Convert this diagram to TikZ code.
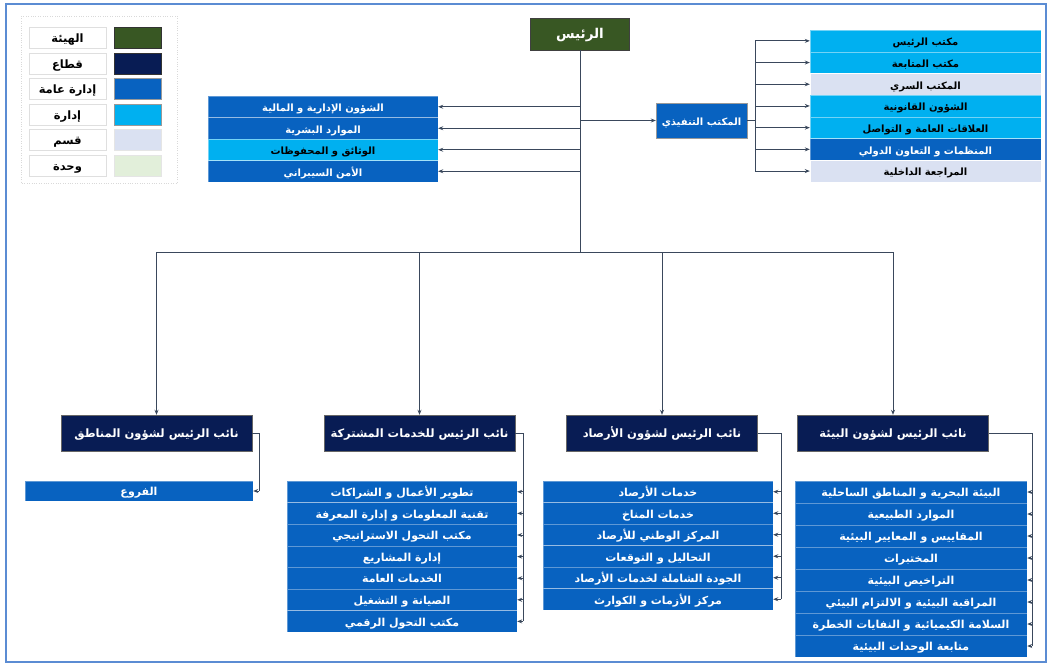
\documentclass[tikz,border=0pt]{standalone}
\usepackage{fontspec}
\usetikzlibrary{arrows.meta}
\TeXXeTstate=1
\newfontfamily\arabicfont[Script=Arabic]{DejaVu Sans}
\newcommand\artxt[1]{{\arabicfont\bfseries\beginR #1\endR}}
\definecolor{hayc}{RGB}{56,87,35}
\definecolor{qitc}{RGB}{8,28,84}
\definecolor{ammc}{RGB}{8,98,192}
\definecolor{idrc}{RGB}{0,176,240}
\definecolor{qsmc}{RGB}{218,225,242}
\definecolor{whdc}{RGB}{226,239,218}
\definecolor{linec}{RGB}{58,72,92}
\definecolor{framec}{RGB}{91,140,211}

\begin{document}
\begin{tikzpicture}[x=1pt,y=-1pt]

\tikzset{box/.style={inner sep=0pt, text height=0.95em, text depth=0pt, font=\fontsize{10}{12}\selectfont}}
\tikzset{big/.style={font=\fontsize{11}{13}\selectfont}}
\tikzset{hay/.style={box, draw=black!75, fill=hayc, text=white, minimum width=99pt, minimum height=32pt, font=\fontsize{13.5}{15}\selectfont}}
\tikzset{qit/.style={box, draw=black!60, fill=qitc, text=white, minimum width=191pt, minimum height=36pt, font=\fontsize{11.5}{13}\selectfont}}
\tikzset{amm/.style={box, draw=white, draw opacity=0.35, fill=ammc, text=white}}
\tikzset{idr/.style={box, draw=white, draw opacity=0.45, fill=idrc, text=black}}
\tikzset{qsm/.style={box, draw=white, fill=qsmc, text=black}}
\tikzset{lrow/.style={minimum width=230pt, minimum height=21.5pt}}
\tikzset{rrow/.style={minimum width=231pt, minimum height=21.7pt}}
\tikzset{legtxt/.style={box, draw=gray!25, fill=white, minimum width=77pt, minimum height=21pt, font=\fontsize{11.5}{13}\selectfont}}
\tikzset{legbox/.style={draw=black!40, minimum width=47pt, minimum height=21pt, inner sep=0pt}}
\tikzset{con/.style={draw=linec, line width=0.9pt}}
\tikzset{arr/.style={con, -{Stealth[length=5pt,width=4pt]}}}

\useasboundingbox (0,0) rectangle (1052,665);
\draw[framec, line width=2.5pt] (6,4) rectangle (1046,662);

% legend
\draw[gray!30, dotted] (21,16) rectangle (177,183);
\draw (67.5,38) node[legtxt](lt1) {\artxt{الهيئة}};
\draw (67.5,63.5) node[legtxt](lt2) {\artxt{قطاع}};
\draw (67.5,89) node[legtxt](lt3) {\artxt{إدارة عامة}};
\draw (67.5,114.5) node[legtxt](lt4) {\artxt{إدارة}};
\draw (67.5,140) node[legtxt](lt5) {\artxt{قسم}};
\draw (67.5,165.5) node[legtxt](lt6) {\artxt{وحدة}};
\draw (137.5,38) node[legbox, fill=hayc, draw=black!80](ls1) {};
\draw (137.5,63.5) node[legbox, fill=qitc, draw=black!80](ls2) {};
\draw (137.5,89) node[legbox, fill=ammc](ls3) {};
\draw (137.5,114.5) node[legbox, fill=idrc](ls4) {};
\draw (137.5,140) node[legbox, fill=qsmc, draw=gray!20](ls5) {};
\draw (137.5,165.5) node[legbox, fill=whdc, draw=gray!20](ls6) {};

% head
\draw (580,34) node[hay](ra) {\artxt{الرئيس}};

% left support units
\draw (323,106.75) node[amm, lrow](s1) {\artxt{الشؤون الإدارية و المالية}};
\draw (323,128.25) node[amm, lrow](s2) {\artxt{الموارد البشرية}};
\draw (323,149.75) node[idr, lrow](s3) {\artxt{الوثائق و المحفوظات}};
\draw (323,171.25) node[amm, lrow](s4) {\artxt{الأمن السيبراني}};

% executive office
\draw (701.5,120.5) node[amm, draw=black!40, draw opacity=1, minimum width=91pt, minimum height=35pt](ex) {\artxt{المكتب التنفيذي}};
\draw (925.5,40.85) node[idr, rrow](e1) {\artxt{مكتب الرئيس}};
\draw (925.5,62.55) node[idr, rrow](e2) {\artxt{مكتب المتابعة}};
\draw (925.5,84.25) node[qsm, rrow](e3) {\artxt{المكتب السري}};
\draw (925.5,105.95) node[idr, rrow](e4) {\artxt{الشؤون القانونية}};
\draw (925.5,127.65) node[idr, rrow](e5) {\artxt{العلاقات العامة و التواصل}};
\draw (925.5,149.35) node[amm, rrow](e6) {\artxt{المنظمات و التعاون الدولي}};
\draw (925.5,171.05) node[qsm, rrow](e7) {\artxt{المراجعة الداخلية}};

% vice presidents
\draw (156.5,433) node[qit](v1) {\artxt{نائب الرئيس لشؤون المناطق}};
\draw (419.5,433) node[qit](v2) {\artxt{نائب الرئيس للخدمات المشتركة}};
\draw (662,433) node[qit](v3) {\artxt{نائب الرئيس لشؤون الأرصاد}};
\draw (893,433) node[qit](v4) {\artxt{نائب الرئيس لشؤون البيئة}};

% regions
\draw (139,491) node[amm, big, minimum width=228pt, minimum height=20pt](a1) {\artxt{الفروع}};

% shared services
\draw (402,491.8) node[amm, big, lrow, minimum height=21.6pt](b1) {\artxt{تطوير الأعمال و الشراكات}};
\draw (402,513.4) node[amm, big, lrow, minimum height=21.6pt](b2) {\artxt{تقنية المعلومات و إدارة المعرفة}};
\draw (402,535.0) node[amm, big, lrow, minimum height=21.6pt](b3) {\artxt{مكتب التحول الاستراتيجي}};
\draw (402,556.6) node[amm, big, lrow, minimum height=21.6pt](b4) {\artxt{إدارة المشاريع}};
\draw (402,578.2) node[amm, big, lrow, minimum height=21.6pt](b5) {\artxt{الخدمات العامة}};
\draw (402,599.8) node[amm, big, lrow, minimum height=21.6pt](b6) {\artxt{الصيانة و التشغيل}};
\draw (402,621.4) node[amm, big, lrow, minimum height=21.6pt](b7) {\artxt{مكتب التحول الرقمي}};

% meteorology
\draw (658,491.75) node[amm, big, lrow](c1) {\artxt{خدمات الأرصاد}};
\draw (658,513.25) node[amm, big, lrow](c2) {\artxt{خدمات المناخ}};
\draw (658,534.75) node[amm, big, lrow](c3) {\artxt{المركز الوطني للأرصاد}};
\draw (658,556.25) node[amm, big, lrow](c4) {\artxt{التحاليل و التوقعات}};
\draw (658,577.75) node[amm, big, lrow](c5) {\artxt{الجودة الشاملة لخدمات الأرصاد}};
\draw (658,599.25) node[amm, big, lrow](c6) {\artxt{مركز الأزمات و الكوارث}};

% environment
\draw (911,492) node[amm, big, minimum width=232pt, minimum height=22pt](d1) {\artxt{البيئة البحرية و المناطق الساحلية}};
\draw (911,514) node[amm, big, minimum width=232pt, minimum height=22pt](d2) {\artxt{الموارد الطبيعية}};
\draw (911,536) node[amm, big, minimum width=232pt, minimum height=22pt](d3) {\artxt{المقاييس و المعايير البيئية}};
\draw (911,558) node[amm, big, minimum width=232pt, minimum height=22pt](d4) {\artxt{المختبرات}};
\draw (911,580) node[amm, big, minimum width=232pt, minimum height=22pt](d5) {\artxt{التراخيص البيئية}};
\draw (911,602) node[amm, big, minimum width=232pt, minimum height=22pt](d6) {\artxt{المراقبة البيئية و الالتزام البيئي}};
\draw (911,624) node[amm, big, minimum width=232pt, minimum height=22pt](d7) {\artxt{السلامة الكيميائية و النفايات الخطرة}};
\draw (911,646) node[amm, big, minimum width=232pt, minimum height=22pt](d8) {\artxt{متابعة الوحدات البيئية}};

% trunk and buses
\coordinate (bus) at (580,252);
\draw[con] (ra.south) -- (bus);
\draw[con] (v1.north |- bus) -- (v4.north |- bus);
\draw[arr] (v1.north |- bus) -- (v1.north);
\draw[arr] (v2.north |- bus) -- (v2.north);
\draw[arr] (v3.north |- bus) -- (v3.north);
\draw[arr] (v4.north |- bus) -- (v4.north);

\draw[arr] (bus |- s1.east) -- (s1.east);
\draw[arr] (bus |- s2.east) -- (s2.east);
\draw[arr] (bus |- s3.east) -- (s3.east);
\draw[arr] (bus |- s4.east) -- (s4.east);
\draw[arr] (bus |- ex.west) -- (ex.west);

\coordinate (eb) at (755,120.5);
\draw[con] (ex.east) -- (eb);
\draw[con] (eb |- e1.west) -- (eb |- e7.west);
\draw[arr] (eb |- e1.west) -- (e1.west);
\draw[arr] (eb |- e2.west) -- (e2.west);
\draw[arr] (eb |- e3.west) -- (e3.west);
\draw[arr] (eb |- e4.west) -- (e4.west);
\draw[arr] (eb |- e5.west) -- (e5.west);
\draw[arr] (eb |- e6.west) -- (e6.west);
\draw[arr] (eb |- e7.west) -- (e7.west);

% branches of the vice presidents
\coordinate (k1) at (259,433);
\draw[con] (v1.east) -- (k1) -- (k1 |- a1.east);
\draw[arr] (k1 |- a1.east) -- (a1.east);

\coordinate (k2) at (523,433);
\draw[con] (v2.east) -- (k2) -- (k2 |- b7.east);
\draw[arr] (k2 |- b1.east) -- (b1.east);
\draw[arr] (k2 |- b2.east) -- (b2.east);
\draw[arr] (k2 |- b3.east) -- (b3.east);
\draw[arr] (k2 |- b4.east) -- (b4.east);
\draw[arr] (k2 |- b5.east) -- (b5.east);
\draw[arr] (k2 |- b6.east) -- (b6.east);
\draw[arr] (k2 |- b7.east) -- (b7.east);

\coordinate (k3) at (781,433);
\draw[con] (v3.east) -- (k3) -- (k3 |- c6.east);
\draw[arr] (k3 |- c1.east) -- (c1.east);
\draw[arr] (k3 |- c2.east) -- (c2.east);
\draw[arr] (k3 |- c3.east) -- (c3.east);
\draw[arr] (k3 |- c4.east) -- (c4.east);
\draw[arr] (k3 |- c5.east) -- (c5.east);
\draw[arr] (k3 |- c6.east) -- (c6.east);

\coordinate (k4) at (1032,433);
\draw[con] (v4.east) -- (k4) -- (k4 |- d8.east);
\draw[arr] (k4 |- d1.east) -- (d1.east);
\draw[arr] (k4 |- d2.east) -- (d2.east);
\draw[arr] (k4 |- d3.east) -- (d3.east);
\draw[arr] (k4 |- d4.east) -- (d4.east);
\draw[arr] (k4 |- d5.east) -- (d5.east);
\draw[arr] (k4 |- d6.east) -- (d6.east);
\draw[arr] (k4 |- d7.east) -- (d7.east);
\draw[arr] (k4 |- d8.east) -- (d8.east);

\end{tikzpicture}
\end{document}
